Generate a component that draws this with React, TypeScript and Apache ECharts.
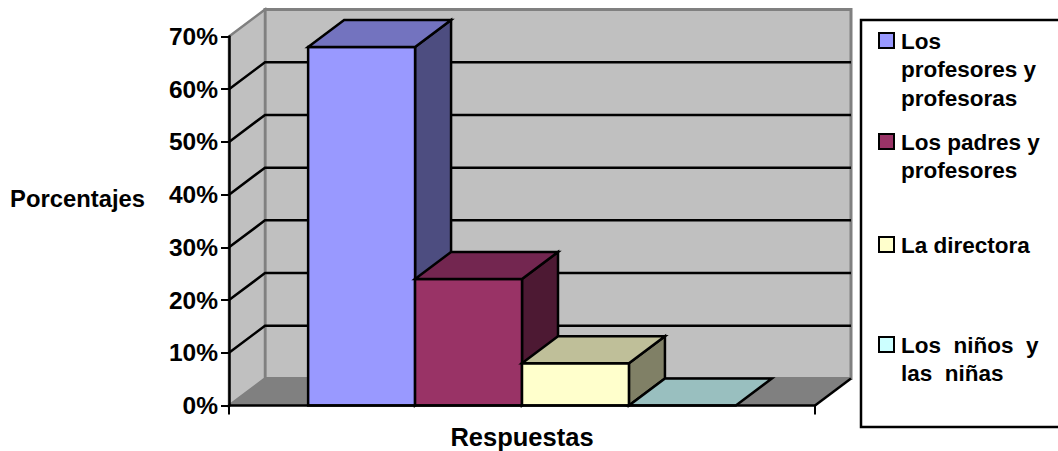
import React, { useEffect, useRef } from "react";
import * as echarts from "echarts";

const FONT = '"Liberation Sans", Arial, sans-serif';
const legendLabels = ["Los\nprofesores y\nprofesoras", "Los padres y\nprofesores", "La directora", "Los  niños  y\nlas  niñas"];
const seriesNames = ["Los profesores y profesoras", "Los padres y profesores", "La directora", "Los niños y las niñas"];
const seriesValues = [68, 24, 8, 0];
const frontColors = ["#9999FF", "#993366", "#FFFFCC", "#CCFFFF"];
const topColors = ["#7373BF", "#732650", "#BFBF99", "#99BFBF"];
const sideColors = ["#4D4D80", "#4D1933", "#808066", "#668080"];
const tickValues = [0, 10, 20, 30, 40, 50, 60, 70];
const legendTops = [32, 133, 236, 336];

const DX = 36;
const DY = -27;
const GAP_RATIO = 0.74;

function poly(points: number[][], fill: string, stroke: string, lineWidth: number) {
  return { type: "polygon", shape: { points }, style: { fill, stroke, lineWidth, lineJoin: "miter" } };
}

function renderWalls(_p: any, api: any) {
  const tick = api.value(1);
  const xL = api.coord([0, 0])[0] - api.size([1, 0])[0] / 2;
  const xR = xL + api.size([1, 0])[0];
  const y = api.coord([0, tick])[1];
  const y0 = api.coord([0, 0])[1];
  const yT = api.coord([0, 70])[1];
  const children: any[] = [];
  if (tick === 0) {
    children.push(
      poly([[xL + DX, yT + DY], [xR + DX, yT + DY], [xR + DX, y0 + DY], [xL + DX, y0 + DY]], "#C0C0C0", "#808080", 3),
      poly([[xL, yT], [xL + DX, yT + DY], [xL + DX, y0 + DY], [xL, y0]], "#C0C0C0", "#808080", 2.5),
      poly([[xL, y0], [xL + DX, y0 + DY], [xR + DX, y0 + DY], [xR, y0]], "#808080", "#808080", 1),
      { type: "polyline", shape: { points: [[xR, y0], [xR + DX, y0 + DY]] }, style: { stroke: "#000", lineWidth: 2.5, fill: "none" } }
    );
  } else if (tick < 70) {
    children.push({
      type: "polyline",
      shape: { points: [[xL, y], [xL + DX, y + DY], [xR + DX, y + DY]] },
      style: { stroke: "#000", lineWidth: 2.5, fill: "none" },
    });
  }
  return { type: "group", children };
}

function makeBar(i: number) {
  return (_p: any, api: any) => {
    const band = api.size([1, 0])[0];
    const w = band / (seriesValues.length + 2 * GAP_RATIO);
    const xL = api.coord([0, 0])[0] - band / 2 + GAP_RATIO * w + i * w;
    const xR = xL + w;
    const yTop = api.coord([0, api.value(1)])[1];
    const y0 = api.coord([0, 0])[1];
    const lw = 2.5;
    const children: any[] = [];
    if (yTop < y0) {
      children.push(
        poly([[xR, yTop], [xR + DX, yTop + DY], [xR + DX, y0 + DY], [xR, y0]], sideColors[i], "#000", lw),
        poly([[xL, yTop], [xR, yTop], [xR, y0], [xL, y0]], frontColors[i], "#000", lw)
      );
    }
    children.push(poly([[xL, yTop], [xL + DX, yTop + DY], [xR + DX, yTop + DY], [xR, yTop]], topColors[i], "#000", lw));
    return { type: "group", children };
  };
}

export default function App() {
  const ref = useRef<HTMLDivElement>(null);
  useEffect(() => {
    document.body.style.margin = "0";
    const chart = echarts.init(ref.current!, null, { renderer: "svg" });
    const legendGraphics: any[] = [
      {
        type: "rect",
        shape: { x: 861, y: 20, width: 210, height: 407 },
        style: { fill: "#fff", stroke: "#000", lineWidth: 2.5 },
      },
    ];
    legendLabels.forEach((label, i) => {
      legendGraphics.push(
        {
          type: "rect",
          shape: { x: 879, y: legendTops[i] + 1, width: 15, height: 15 },
          style: { fill: frontColors[i], stroke: "#000", lineWidth: 2 },
        },
        {
          type: "text",
          x: 901,
          y: legendTops[i] - 5,
          style: { text: label, fill: "#000", font: `bold 22.5px ${FONT}`, lineHeight: 28.5, textVerticalAlign: "top" },
        }
      );
    });
    chart.setOption({
      animation: false,
      backgroundColor: "#fff",
      grid: { left: 229, top: 36.5, width: 586, height: 369, containLabel: false, outerBoundsMode: "none" },
      xAxis: {
        type: "category",
        data: ["Respuestas"],
        z: 10,
        name: "Respuestas",
        nameLocation: "middle",
        nameGap: 18,
        nameTextStyle: { color: "#000", fontFamily: FONT, fontWeight: "bold", fontSize: 25.5 },
        axisLabel: { show: false },
        axisLine: { lineStyle: { color: "#000", width: 2.5 } },
        axisTick: { show: true, interval: 0, alignWithLabel: false, length: 9, lineStyle: { color: "#000", width: 2 } },
        splitLine: { show: false },
      },
      yAxis: {
        type: "value",
        min: 0,
        max: 70,
        interval: 10,
        z: 10,
        name: "Porcentajes",
        nameLocation: "middle",
        nameRotate: 0,
        nameGap: 84,
        nameTextStyle: { color: "#000", fontFamily: FONT, fontWeight: "bold", fontSize: 23.8, align: "right", verticalAlign: "bottom", lineHeight: 46 },
        axisLabel: { formatter: "{value}%", color: "#000", fontFamily: FONT, fontWeight: "bold", fontSize: 24.5, margin: 11 },
        axisLine: { show: true, lineStyle: { color: "#000", width: 2.5 } },
        axisTick: { show: true, length: 8, lineStyle: { color: "#000", width: 2 } },
        splitLine: { show: false },
      },
      graphic: legendGraphics,
      series: [
        {
          type: "custom",
          name: "walls",
          silent: true,
          z: 1,
          renderItem: renderWalls,
          data: tickValues.map((t) => [0, t]),
        },
        ...seriesNames.map((name, i) => ({
          type: "custom",
          name,
          z: 2 + i,
          renderItem: makeBar(i),
          data: [[0, seriesValues[i]]],
        })),
      ],
    });
    return () => chart.dispose();
  }, []);
  return <div ref={ref} style={{ width: 1058, height: 451 }} />;
}
